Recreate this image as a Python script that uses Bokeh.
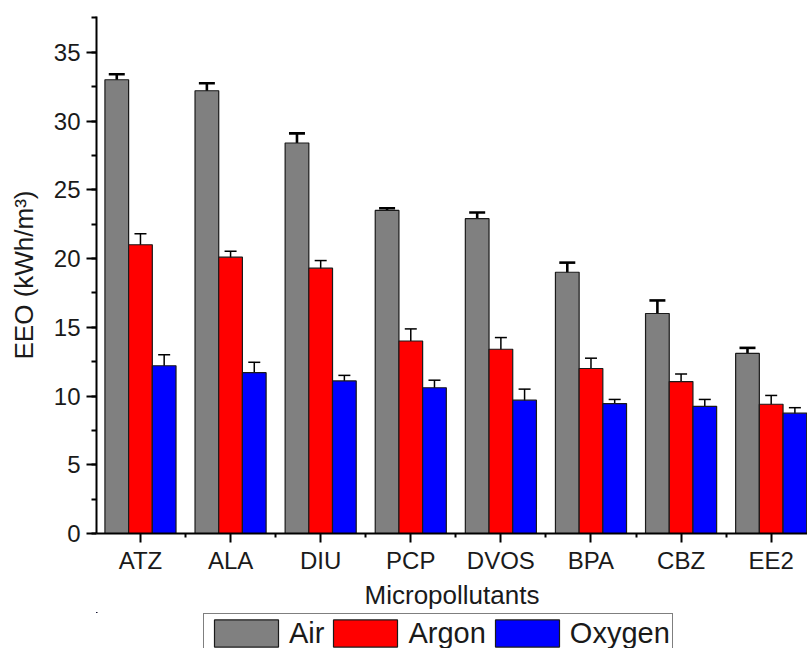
import numpy as np
from bokeh.plotting import figure
from bokeh.layouts import column
from bokeh.models import (ColumnDataSource, Whisker, TeeHead, FixedTicker,
                          SingleIntervalTicker, Legend, LegendItem)
from bokeh.embed import file_html
from bokeh.resources import INLINE

categories = ["ATZ", "ALA", "DIU", "PCP", "DVOS", "BPA", "CBZ", "EE2"]
series_names = ["Air", "Argon", "Oxygen"]
air = [33.0, 32.2, 28.4, 23.5, 22.9, 19.0, 16.0, 13.1]
air_err = [0.4, 0.55, 0.7, 0.15, 0.45, 0.7, 0.95, 0.4]
argon = [21.0, 20.1, 19.3, 14.0, 13.4, 12.0, 11.05, 9.4]
argon_err = [0.8, 0.43, 0.55, 0.88, 0.85, 0.75, 0.55, 0.64]
oxygen = [12.2, 11.7, 11.1, 10.6, 9.7, 9.45, 9.25, 8.75]
oxygen_err = [0.8, 0.75, 0.4, 0.55, 0.8, 0.3, 0.5, 0.4]
y_label = "EEO (kWh/m\u00b3)"
x_label = "Micropollutants"

colors = ["#808080", "#FF0000", "#0000FF"]
FONT = "Liberation Sans"

p = figure(width=807, height=612, x_range=(-0.488, 7.403), y_range=(0, 37.6),
           output_backend="svg", toolbar_location=None,
           min_border_left=96, min_border_right=0, min_border_top=16,
           min_border_bottom=79)
p.outline_line_color = None
p.xgrid.grid_line_color = None
p.ygrid.grid_line_color = None

bw = 0.263
values = [air, argon, oxygen]
errs = [air_err, argon_err, oxygen_err]
err_lw = [2.6, 1.5, 1.5]
head = [16, 12, 12]
idx = np.arange(len(categories))
sources = []
for k in range(3):
    v = np.array(values[k])
    e = np.array(errs[k])
    src = ColumnDataSource(dict(x=idx + (k - 1) * bw, top=v, upper=v + e, lower=v - e))
    sources.append(src)
    p.vbar(x="x", top="top", width=bw, source=src, fill_color=colors[k],
           line_color="#1a1a1a", line_width=1.2)
    w = Whisker(base="x", upper="upper", lower="lower", source=src,
                line_color="black", line_width=err_lw[k],
                upper_head=TeeHead(size=head[k], line_color="black", line_width=err_lw[k]),
                lower_head=TeeHead(size=head[k], line_color="black", line_width=err_lw[k]))
    p.add_layout(w)

# axes
p.xaxis.ticker = FixedTicker(ticks=list(range(len(categories))),
                             minor_ticks=[i + 0.5 for i in range(len(categories) - 1)])
p.xaxis.major_label_overrides = {i: c for i, c in enumerate(categories)}
p.yaxis.ticker = SingleIntervalTicker(interval=5, num_minor_ticks=2)
p.xaxis.axis_label = x_label
p.yaxis.axis_label = y_label

for ax in (p.xaxis, p.yaxis):
    ax.axis_line_width = 2
    ax.axis_line_color = "black"
    ax.major_tick_line_width = 2
    ax.minor_tick_line_width = 2
    ax.major_tick_line_color = "black"
    ax.minor_tick_line_color = "black"
    ax.major_tick_in = 0
    ax.minor_tick_in = 0
    ax.major_label_text_font = FONT
    ax.major_label_text_font_size = "24px"
    ax.major_label_text_color = "#1a1a1a"
    ax.axis_label_text_font = FONT
    ax.axis_label_text_font_size = "26px"
    ax.axis_label_text_font_style = "normal"
    ax.axis_label_text_color = "#1a1a1a"

p.xaxis.major_tick_out = 9
p.xaxis.minor_tick_out = 4
p.xaxis.major_label_standoff = 4
p.xaxis.axis_label_standoff = 3
p.yaxis.major_tick_out = 10
p.yaxis.minor_tick_out = 5
p.yaxis.major_label_standoff = 6
p.yaxis.axis_label_standoff = 12

# legend strip below the chart (its bars lie far outside its view; only the legend shows)
lg = figure(width=807, height=36, x_range=(100, 101), y_range=(-2, -1),
            output_backend="svg", toolbar_location=None,
            x_axis_type=None, y_axis_type=None,
            min_border_left=96, min_border_right=0, min_border_top=0, min_border_bottom=0)
lg.outline_line_color = None
lg.xgrid.grid_line_color = None
lg.ygrid.grid_line_color = None
items = []
for k in range(3):
    r = lg.vbar(x="x", top="top", width=bw, source=sources[k], fill_color=colors[k],
                line_color="#1a1a1a", line_width=1.2)
    items.append(LegendItem(label=series_names[k], renderers=[r]))
legend = Legend(items=items, orientation="horizontal", location=(107, -5),
                border_line_color="black", border_line_width=1.5,
                background_fill_color="white", background_fill_alpha=1,
                glyph_width=80, glyph_height=34, label_height=34,
                label_text_font=FONT, label_text_font_size="29px",
                label_text_color="#1a1a1a",
                padding=2, spacing=1, label_standoff=3, margin=0)
lg.add_layout(legend, "center")

open("out.html", "w").write(file_html(column(p, lg, spacing=0), INLINE))
